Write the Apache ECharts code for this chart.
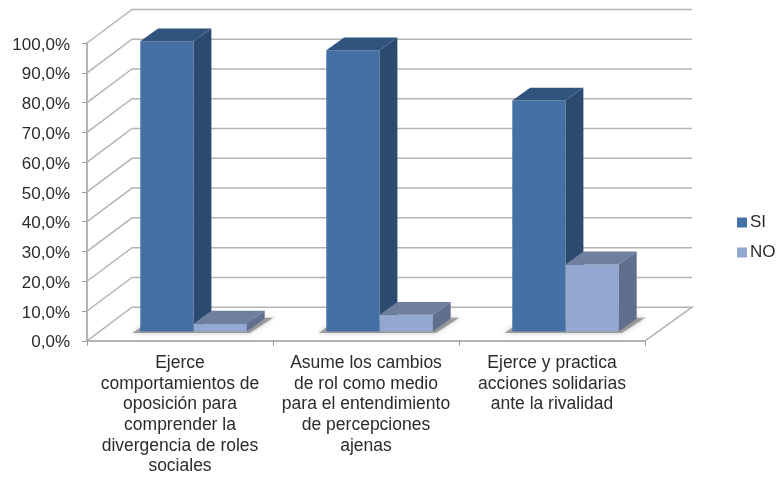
<!DOCTYPE html>
<html>
<head>
<meta charset="utf-8">
<style>html,body{margin:0;padding:0;background:#fff}#c{width:777px;height:477px}</style>
<script src="https://cdn.jsdelivr.net/npm/echarts@6/dist/echarts.min.js"></script>
</head>
<body>
<div id="c"></div>
<script>
const categories = [
  "Ejerce\ncomportamientos de\noposición para\ncomprender la\ndivergencia de roles\nsociales",
  "Asume los cambios\nde rol como medio\npara el entendimiento\nde percepciones\najenas",
  "Ejerce y practica\nacciones solidarias\nante la rivalidad"
];
const seriesSI = [97.4, 94.4, 77.5];
const seriesNO = [2.6, 5.6, 22.5];
const yTicks = [0, 10, 20, 30, 40, 50, 60, 70, 80, 90, 100];

const FONT = '"Liberation Sans", Arial, sans-serif';
const TEXT = '#2b2b2b';
const GRID = '#b4b4b4';
const WALL_DX = 45, WALL_DY = 33.6;     // projection of the chart's depth
const BAR_DX = 17.8, BAR_DY = 12.8;     // projection of a bar's depth
const BAR_W = 53.3;
const BAR_SHIFT_X = 13.6, BAR_SHIFT_Y = 9.4; // bars stand mid-way in the depth
const COL_SI = {front: '#4470a6', side: '#2c4a70', top: '#31547f'};
const COL_NO = {front: '#93a8d0', side: '#5f6f8d', top: '#6f7f9f'};

function poly(points, fill, extra) {
  return {type: 'polygon', shape: {points}, style: Object.assign({fill}, extra || {})};
}

function barSeries(name, values, col, shift) {
  return {
    name, type: 'custom', z: 4, silent: true, animation: false, clip: false,
    itemStyle: {color: col.front},
    encode: {x: 0, y: 1},
    data: values.map((v, i) => [i, v]),
    renderItem(params, api) {
      const cx = api.coord([api.value(0), 0])[0] + BAR_SHIFT_X;
      const base = api.coord([0, 0])[1] - BAR_SHIFT_Y;
      const h = api.coord([0, 0])[1] - api.coord([0, api.value(1)])[1];
      const l = cx + shift * BAR_W, r = l + BAR_W, t = base - h;
      return {type: 'group', children: [
        poly([[l, t], [r, t], [r, base], [l, base]], col.front),
        poly([[r, t], [r + BAR_DX, t - BAR_DY], [r + BAR_DX, base - BAR_DY], [r, base]], col.side),
        poly([[l, t], [l + BAR_DX, t - BAR_DY], [r + BAR_DX, t - BAR_DY], [r, t]], col.top)
      ]};
    }
  };
}

const wallSeries = {
  type: 'custom', z: 1, silent: true, animation: false, clip: false,
  encode: {x: 0, y: 1},
  data: yTicks.map(v => [0, v]),
  renderItem(params, api) {
    const cs = params.coordSys;
    const y = api.coord([0, api.value(1)])[1];
    const pts = [[cs.x, y], [cs.x + WALL_DX, y - WALL_DY], [cs.x + cs.width + 47, y - WALL_DY]];
    if (api.value(1) === 0) {
      pts.push([cs.x + cs.width, y]);
    }
    return {type: 'polyline', shape: {points: pts}, style: {stroke: GRID, lineWidth: 1.5, fill: null}};
  }
};

const shadowSeries = {
  type: 'custom', z: 2, silent: true, animation: false, clip: false,
  encode: {x: 0, y: 1},
  data: categories.map((c, i) => [i, 0]),
  renderItem(params, api) {
    const cx = api.coord([api.value(0), 0])[0] + BAR_SHIFT_X;
    const base = api.coord([0, 0])[1] - BAR_SHIFT_Y;
    const l = cx - BAR_W, r = cx + BAR_W;
    return poly([[l - 8, base + 1.5], [l + 6, base - 8], [r + BAR_DX + 9, base - BAR_DY - 1], [r + 3, base + 1.5]],
      'rgba(100,100,100,0.55)', {shadowBlur: 5, shadowColor: 'rgba(110,110,110,0.7)'});
  }
};

const chart = echarts.init(document.getElementById('c'), null, {renderer: 'canvas'});
chart.setOption({
  backgroundColor: '#ffffff',
  animation: false,
  textStyle: {fontFamily: FONT},
  grid: {left: 87, top: 43, width: 558, height: 298.6},
  legend: {
    orient: 'vertical', left: 732, top: 209, itemWidth: 10, itemHeight: 10, itemGap: 13,
    icon: 'rect', selectedMode: false,
    textStyle: {fontSize: 17, color: TEXT, fontFamily: FONT, padding: [0, 0, 0, -2]},
    data: [
      {name: 'SI', itemStyle: {color: COL_SI.front}},
      {name: 'NO', itemStyle: {color: COL_NO.front}}
    ]
  },
  xAxis: {
    type: 'category', data: categories,
    axisLine: {show: true, lineStyle: {color: '#9c9c9c', width: 1.5}},
    axisTick: {show: true, length: 5, alignWithLabel: false, lineStyle: {color: '#9c9c9c'}},
    splitLine: {show: false},
    axisLabel: {interval: 0, margin: 12, fontSize: 17.5, lineHeight: 20.7, color: TEXT, fontFamily: FONT, align: 'center', verticalAlign: 'top'}
  },
  yAxis: {
    type: 'value', min: 0, max: 100, interval: 10,
    axisLine: {show: true, lineStyle: {color: '#9c9c9c', width: 1.5}},
    axisTick: {show: true, length: 5, lineStyle: {color: '#9c9c9c'}},
    splitLine: {show: false},
    axisLabel: {margin: 17, fontSize: 17, verticalAlign: 'top', lineHeight: 4, color: TEXT, fontFamily: FONT, formatter: v => v.toFixed(1).replace('.', ',') + '%'}
  },
  series: [
    wallSeries,
    shadowSeries,
    barSeries('SI', seriesSI, COL_SI, -1),
    barSeries('NO', seriesNO, COL_NO, 0)
  ]
});
</script>
</body>
</html>
